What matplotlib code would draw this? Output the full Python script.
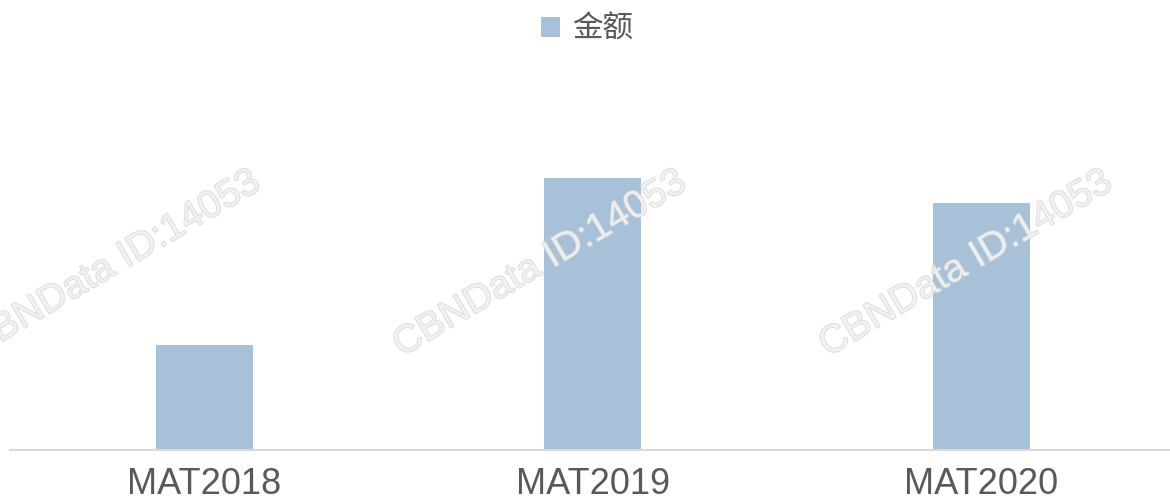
import matplotlib
matplotlib.use("Agg")
import matplotlib.pyplot as plt
import matplotlib.patheffects as pe

plt.rcParams['font.family'] = ['Liberation Sans', 'Noto Sans CJK SC', 'DejaVu Sans']

categories = ["MAT2018", "MAT2019", "MAT2020"]
amount = [105, 272, 247]
series_name = "金额"
watermark = "CBNData ID:14053"

bar_color = "#a7c2d8"
text_color = "#595959"

fig = plt.figure(figsize=(11.7, 5.03), dpi=100)
ax = fig.add_axes([10 / 1170, 1 - 450 / 503, 1165.5 / 1170, 390 / 503])

x = range(len(categories))
ax.bar(x, amount, width=0.25, color=bar_color, label=series_name, zorder=2)

ax.set_xlim(-0.5, 2.5)
ax.set_ylim(0, 390)
ax.set_xticks(list(x))
ax.set_xticklabels(categories, fontsize=26, color=text_color)
ax.tick_params(axis='x', length=0, pad=12.5)
ax.set_yticks([])
for side in ["top", "right", "left"]:
    ax.spines[side].set_visible(False)
ax.spines["bottom"].set_color("#d9d9d9")
ax.spines["bottom"].set_linewidth(1.5)

fig.legend(loc="center", bbox_to_anchor=(587 / 1170, 1 - 30 / 503), frameon=False,
           fontsize=22, handlelength=0.6, handleheight=0.65, handletextpad=0.4,
           labelcolor=text_color)

# faint watermark stamps
for cx in [114 / 1170, 540 / 1170, 966 / 1170]:
    fig.text(cx, 1 - 264 / 503, watermark, fontsize=28, rotation=30.5,
             ha="center", va="center", color="#f2f2f2", alpha=0.75, zorder=5,
             path_effects=[pe.withStroke(linewidth=1.2, foreground="#d4d4d4")])

fig.savefig("out.png", dpi=100)
